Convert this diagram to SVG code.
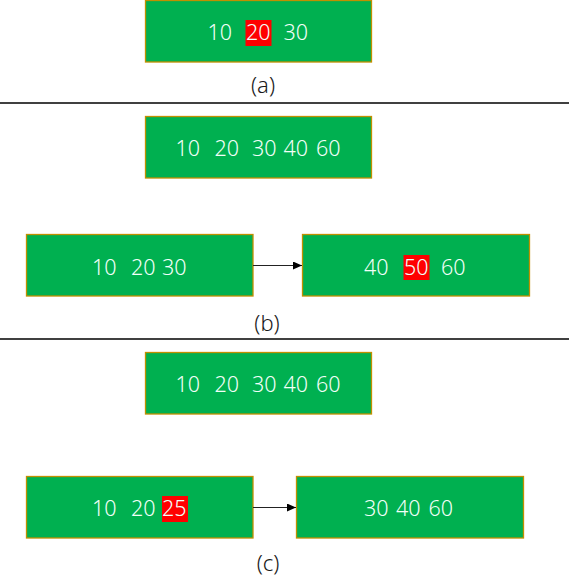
<svg xmlns="http://www.w3.org/2000/svg" width="570" height="585" viewBox="0 0 570 585">
<style>
.box{fill:#00B050;stroke:#C09000;stroke-width:1.3}
.t{font-family:"Noto Sans","Liberation Sans",sans-serif;font-size:21.5px;font-weight:300;fill:#F2FFF8}
.hl{fill:#FF0000}
.lbl{font-family:"Noto Sans","Liberation Sans",sans-serif;font-size:22px;font-weight:300;fill:#1a1a1a;text-anchor:middle}
.sep{stroke:#000;stroke-width:1.3}
.conn{stroke:#222;stroke-width:1.2;fill:none}
</style>
<defs>
<marker id="arr" markerWidth="10" markerHeight="8" refX="9" refY="4" orient="auto" markerUnits="userSpaceOnUse">
<path d="M0,0 L9,4 L0,8 Z" fill="#000"/>
</marker>
</defs>
<rect width="570" height="585" fill="#fff"/>

<g id="node-a">
<rect class="box" x="145.5" y="0.5" width="226" height="61.5"/>
<rect class="hl" x="245.5" y="20" width="26" height="26"/>
<text class="t" x="207.5" y="39.5">10</text>
<text class="t" x="246" y="39.5">20</text>
<text class="t" x="283.5" y="39.5">30</text>
</g>
<text class="lbl" x="263" y="93">(a)</text>
<line class="sep" x1="0" y1="103" x2="569" y2="103"/>

<g id="node-b-root">
<rect class="box" x="145.5" y="116.5" width="226" height="61.5"/>
<text class="t" x="175.5" y="156">10</text>
<text class="t" x="214.5" y="156">20</text>
<text class="t" x="252" y="156">30</text>
<text class="t" x="283.5" y="156">40</text>
<text class="t" x="316" y="156">60</text>
</g>

<g id="node-b-left">
<rect class="box" x="26.5" y="234.5" width="226.5" height="61.5"/>
<text class="t" x="92" y="274.5">10</text>
<text class="t" x="131" y="274.5">20</text>
<text class="t" x="162" y="274.5">30</text>
</g>

<g id="node-b-right">
<rect class="box" x="302.5" y="234.5" width="227" height="61.5"/>
<rect class="hl" x="403.5" y="255" width="26" height="25"/>
<text class="t" x="364" y="274.5">40</text>
<text class="t" x="404" y="274.5">50</text>
<text class="t" x="441" y="274.5">60</text>
</g>
<text class="lbl" x="267" y="331">(b)</text>
<line class="sep" x1="0" y1="339" x2="569" y2="339"/>

<g id="node-c-root">
<rect class="box" x="145.5" y="352.5" width="226" height="61.5"/>
<text class="t" x="175.5" y="392">10</text>
<text class="t" x="214.5" y="392">20</text>
<text class="t" x="252" y="392">30</text>
<text class="t" x="283.5" y="392">40</text>
<text class="t" x="316" y="392">60</text>
</g>

<g id="node-c-left">
<rect class="box" x="26.5" y="476.5" width="226.5" height="61.5"/>
<rect class="hl" x="162" y="496" width="26" height="26"/>
<text class="t" x="92" y="515.5">10</text>
<text class="t" x="131" y="515.5">20</text>
<text class="t" x="162" y="515.5">25</text>
</g>

<g id="node-c-right">
<rect class="box" x="296.5" y="476.5" width="227" height="61.5"/>
<text class="t" x="364" y="515.5">30</text>
<text class="t" x="396" y="515.5">40</text>
<text class="t" x="428.5" y="515.5">60</text>
</g>
<text class="lbl" x="268" y="571">(c)</text>

<g id="connectors">
<line class="conn" x1="253" y1="265.5" x2="302" y2="265.5" marker-end="url(#arr)"/>
<line class="conn" x1="253" y1="507.5" x2="296" y2="507.5" marker-end="url(#arr)"/>
</g>
</svg>
